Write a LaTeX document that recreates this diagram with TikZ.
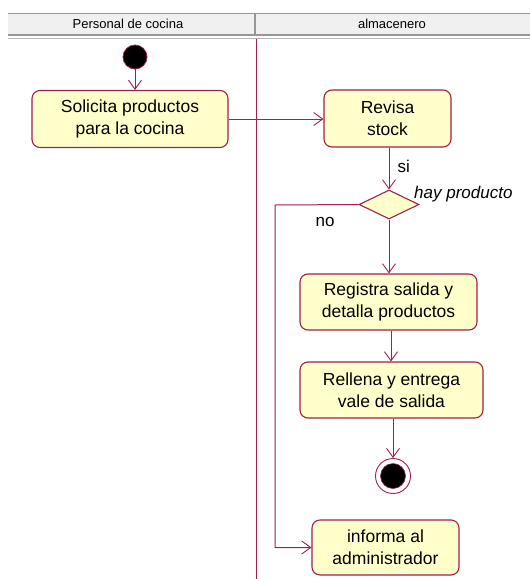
\documentclass[tikz,border=0pt]{standalone}
\usepackage{fontspec}
\setmainfont{Liberation Sans}
\usetikzlibrary{arrows.meta,shapes.geometric}
\definecolor{umlline}{RGB}{160,32,72}
\definecolor{umlfill}{RGB}{255,255,204}
\definecolor{hdrfill}{RGB}{240,240,240}
\definecolor{hdrline}{RGB}{150,150,150}
\begin{document}
\begin{tikzpicture}[x=1pt,y=-1pt,
  action/.style={draw=umlline,fill=umlfill,line width=1.1pt,rounded corners=8pt,
    align=center,inner sep=0pt,font=\fontsize{17.5}{22}\selectfont},
  decision/.style={diamond,draw=umlline,fill=umlfill,line width=1.1pt,inner sep=0pt,
    minimum width=60pt,minimum height=29pt},
  flow/.style={draw=umlline,line width=1pt,-{Straight Barb[length=9pt,width=13pt,line width=0.9pt]}},
  lbl/.style={font=\fontsize{17}{20}\selectfont,inner sep=0pt},
  hdr/.style={font=\fontsize{13}{15}\selectfont,inner sep=0pt}]
\useasboundingbox (0,0) rectangle (530,579);

% swimlane headers
\fill[hdrfill] (8,13) rectangle (530,34);
\draw[hdrline,line width=0.8pt] (8,13) -- (530,13);
\draw[hdrline,line width=2pt] (255,13) -- (255,34);
\draw[hdrline,line width=2pt] (8,35) -- (530,35);
\draw[hdrline!70,line width=1pt] (8,38.5) -- (530,38.5);
\node[hdr] (laneA) at (128,23.5) {Personal de cocina};
\node[hdr] (laneB) at (392,23.5) {almacenero};

% lane separator
\draw[umlline,line width=1pt] (256,39) -- (256,579);

% start and end states
\node[circle,draw=umlline,fill=black,line width=0.8pt,minimum size=24pt,inner sep=0pt] (start) at (135,57) {};
\node[circle,draw=umlline,fill=white,line width=0.9pt,minimum size=35pt,inner sep=0pt] (finish) at (393,476) {};
\node[circle,draw=umlline,fill=black,line width=0.6pt,minimum size=25pt,inner sep=0pt] (finishdot) at (finish.center) {};

% actions
\node[action,minimum width=196pt,minimum height=57pt] (sol) at (130,119) {Solicita productos\\para la cocina};
\node[action,minimum width=127pt,minimum height=57pt] (rev) at (387.5,118.5) {Revisa\\stock};
\node[decision] (dia) at (389,204.5) {};
\node[action,minimum width=177pt,minimum height=56pt] (reg) at (388.5,302) {Registra salida y\\detalla productos};
\node[action,minimum width=183pt,minimum height=56pt] (rel) at (391.5,390) {Rellena y entrega\\vale de salida};
\node[action,minimum width=147pt,minimum height=55pt] (inf) at (385.5,547.5) {informa al\\administrador};

% flows
\draw[flow] (start.south) -- (sol.north -| start);
\draw[flow] (sol.east) -- (rev.west |- sol.east);
\draw[flow] (rev.south -| dia) -- node[lbl,right=8pt,pos=0.45] (si) {si} (dia.north);
\draw[flow] (dia.south) -- (reg.north -| dia);
\draw[flow] (reg.south -| 391,0) -- (rel.north -| 391,0);
\draw[flow] (rel.south -| finish) -- (finish.north);
\coordinate (noturn) at (275,205);
\draw[flow] (dia.west) -- (noturn) |- (inf.west);
\node[lbl] (no) at (325,222) {no};
\node[lbl,anchor=west,font=\fontsize{17}{20}\selectfont\itshape] (guard) at (414,194) {hay producto};
\end{tikzpicture}
\end{document}
